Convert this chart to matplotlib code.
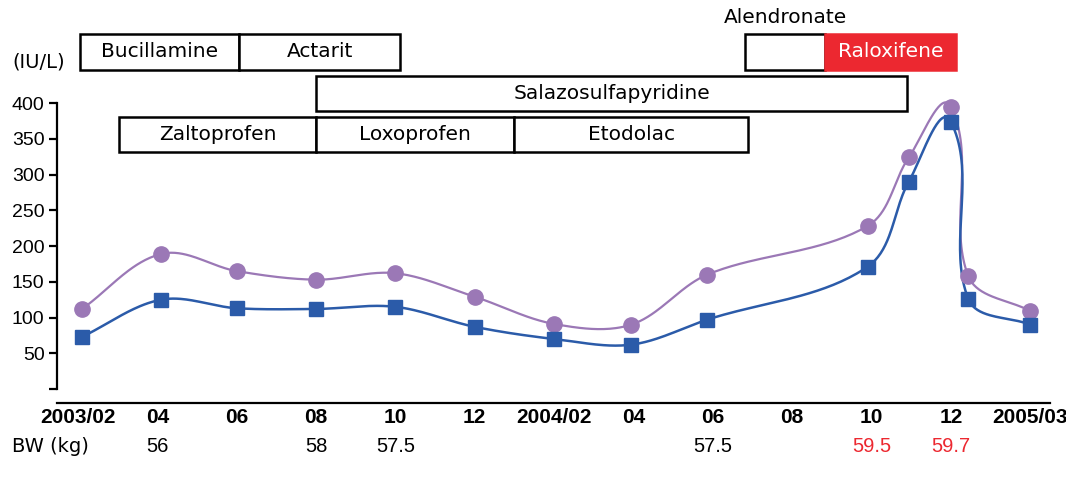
import matplotlib.pyplot as plt
import numpy as np
from matplotlib.patches import Rectangle

# x positions on the category axis (one slot = 2 months)
tick_labels = ["2003/02", "04", "06", "08", "10", "12", "2004/02",
               "04", "06", "08", "10", "12", "2005/03"]
point_x = [0.05, 1.05, 2.0, 3.0, 4.0, 5.0, 6.0, 6.97, 7.93, 9.95, 10.47, 11.0, 11.22, 12.0]
circle_vals = [112, 189, 165, 153, 162, 129, 91, 90, 160, 228, 324, 395, 158, 109]
square_vals = [73, 125, 113, 112, 115, 87, 70, 62, 97, 171, 290, 374, 126, 90]

# drug periods (slot units)
drug_names = ["Bucillamine", "Actarit", "", "Raloxifene",
              "Salazosulfapyridine", "Zaltoprofen", "Loxoprofen", "Etodolac"]
drug_start = [0.03, 2.03, 8.41, 9.42, 3.0, 0.52, 3.0, 5.5]
drug_end = [2.03, 4.06, 9.42, 11.07, 10.45, 3.0, 5.5, 8.44]
drug_row = [0, 0, 0, 0, 1, 2, 2, 2]

bw_x = [1, 3, 4, 8, 10, 11]
bw_vals = ["56", "58", "57.5", "57.5", "59.5", "59.7"]

PURPLE = "#9b78b6"
BLUE = "#2b5ba9"
RED = "#ec2830"


def _smooth(xs, ys, sx=79.3, sy=0.714, n=40):
    # bezier through the points, arms scaled by segment length (Excel-like)
    pts = np.column_stack([np.asarray(xs) * sx, np.asarray(ys) * sy])
    ext = np.vstack([pts[0], pts, pts[-1]])
    tang = ext[2:] - ext[:-2]
    tang = tang / np.linalg.norm(tang, axis=1)[:, None]
    t = np.linspace(0, 1, n)[:, None]
    segs = []
    for i in range(len(pts) - 1):
        p1, p2 = pts[i], pts[i + 1]
        arm = np.linalg.norm(p2 - p1) / 3
        c1 = p1 + tang[i] * arm
        c2 = p2 - tang[i + 1] * arm
        segs.append((1 - t) ** 3 * p1 + 3 * (1 - t) ** 2 * t * c1
                    + 3 * (1 - t) * t ** 2 * c2 + t ** 3 * p2)
    out = np.vstack(segs)
    return out[:, 0] / sx, out[:, 1] / sy


fig = plt.figure(figsize=(10.66, 4.9), dpi=100)
ax = fig.add_axes([57 / 1066, 101 / 490, 993 / 1066, 288 / 490])
ax.set_xlim(-0.265, 12.25)
ax.set_ylim(0, 403)

for vals, color, marker, ms, lw in [
    (circle_vals, PURPLE, "o", 11, 1.6),
    (square_vals, BLUE, "s", 9.5, 1.8),
]:
    sx, sy = _smooth(point_x, vals)
    ax.plot(sx, sy, color=color, lw=lw, clip_on=False, zorder=3)
    ax.plot(point_x, vals, ls="none", marker=marker, ms=ms, color=color,
            mec=color, clip_on=False, zorder=4)

# axes styling
for side in ["top", "right"]:
    ax.spines[side].set_visible(False)
ax.spines["left"].set_linewidth(1.6)
ax.spines["left"].set_bounds(0, 400)
ax.spines["bottom"].set_linewidth(1.6)
ax.spines["bottom"].set_position(("outward", 10))
ax.set_yticks(np.arange(0, 401, 50))
ax.set_yticklabels([""] + [str(v) for v in range(50, 401, 50)],
                   fontsize=14, family="Liberation Sans")
ax.tick_params(axis="y", length=6, width=1.6, pad=3)
ax.set_xticks(range(len(tick_labels)))
ax.set_xticklabels(tick_labels, fontsize=15, fontweight="bold",
                   family="Liberation Sans")
ax.tick_params(axis="x", length=0, pad=4)

# drug boxes
row_y = [(447, 497), (389, 438), (331, 381)]
for name, x0, x1, row in zip(drug_names, drug_start, drug_end, drug_row):
    y0, y1 = row_y[row]
    red = name == "Raloxifene"
    ax.add_patch(Rectangle((x0, y0), x1 - x0, y1 - y0, facecolor=RED if red else "white",
                           edgecolor=RED if red else "black", lw=1.8, clip_on=False,
                           zorder=2 if red else 1))
    if name:
        ax.text((x0 + x1) / 2, (y0 + y1) / 2, name, ha="center", va="center",
                fontsize=14.5, color="white" if red else "black", clip_on=False)

ax.text((drug_start[2] + drug_end[2]) / 2, 520, "Alendronate", ha="center",
        va="center", fontsize=14.5, clip_on=False)
ax.text(-0.5, 458, "(IU/L)", ha="center", va="center", fontsize=14, clip_on=False)

# body weight row
ax.text(-0.83, -81, "BW (kg)", ha="left", va="center", fontsize=14, clip_on=False)
for x, v in zip(bw_x, bw_vals):
    color = RED if x >= 10 else "black"
    ax.text(x, -81, v, ha="center", va="center", fontsize=14.5, color=color,
            family="Liberation Sans", clip_on=False)

fig.savefig("out.png", dpi=100)
